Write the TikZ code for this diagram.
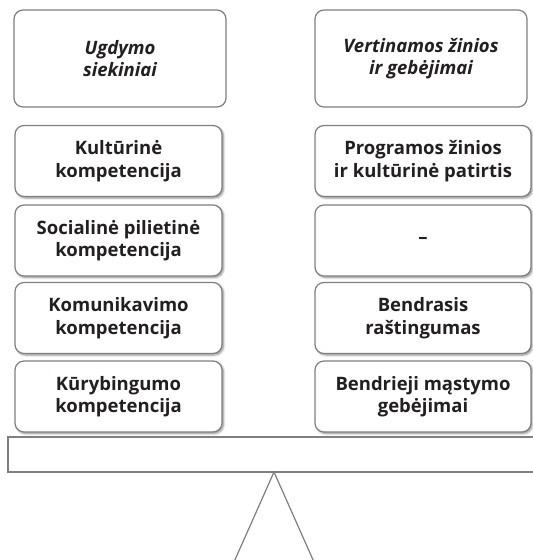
\documentclass[tikz,border=0pt]{standalone}
\usepackage{fontspec}
\setmainfont{Open Sans}
\usetikzlibrary{shadows.blur}
\definecolor{txt}{HTML}{231F20}
\definecolor{edge}{HTML}{7F7F7F}
\tikzset{
  headbox/.style={draw=edge, line width=1.2bp, rounded corners=9bp, fill=white,
    minimum width=212bp, minimum height=97bp, align=center, text=txt,
    font=\fontsize{18.5bp}{22.5bp}\selectfont\bfseries\itshape},
  itembox/.style={draw=edge, line width=1.2bp, rounded corners=9bp, fill=white,
    minimum height=71bp, align=center, text=txt,
    blur shadow={shadow xshift=1.5bp, shadow yshift=-1.5bp, shadow blur steps=6, shadow opacity=45},
    font=\fontsize{18.5bp}{22.5bp}\selectfont\bfseries},
  leftbox/.style={itembox, minimum width=207bp},
  rightbox/.style={itembox, minimum width=216bp},
  beam/.style={draw=edge, line width=1.3bp, fill=white},
}
\begin{document}
\begin{tikzpicture}[x=1bp, y=-1bp]
\useasboundingbox (0,0) rectangle (533,560);
\clip (0,0) rectangle (533,560);
\node[headbox] (hl) at (120,58.5) {Ugdymo\\siekiniai};
\node[headbox] (hr) at (421,58.5) {Vertinamos žinios\\ir gebėjimai};
\node[leftbox] (l1) at (118.5,161) {Kultūrinė\\kompetencija};
\node[leftbox] (l2) at (118.5,240.5) {Socialinė pilietinė\\kompetencija};
\node[leftbox] (l3) at (118.5,318) {Komunikavimo\\kompetencija};
\node[leftbox] (l4) at (118.5,396.5) {Kūrybingumo\\kompetencija};
\node[rightbox] (r1) at (423,161) {Programos žinios\\ir kultūrinė patirtis};
\node[rightbox] (r2) at (423,240.5) {–};
\node[rightbox] (r3) at (423,318) {Bendrasis\\raštingumas};
\node[rightbox] (r4) at (423,396.5) {Bendrieji mąstymo\\gebėjimai};
\draw[beam] (8,437) rectangle (545,472);
\coordinate (apex) at (274,472);
\draw[edge, line width=1.2bp] (226,580) -- (apex) -- (322,580);
\end{tikzpicture}
\end{document}
